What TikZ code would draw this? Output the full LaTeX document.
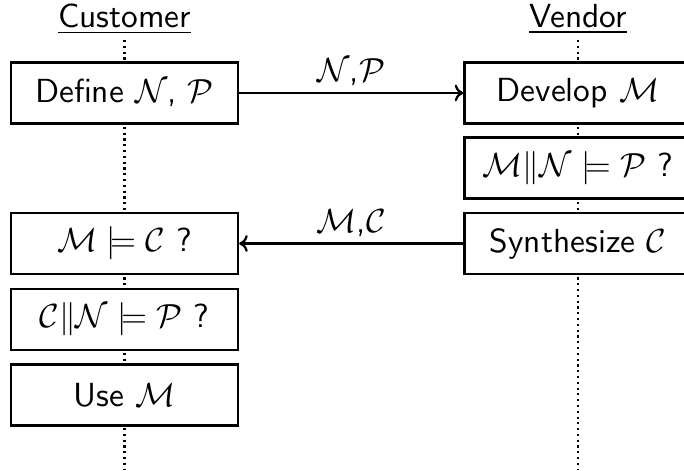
\documentclass[tikz,border=0pt]{standalone}
\usetikzlibrary{arrows.meta}
\begin{document}
\begin{tikzpicture}[x=0.328pt,y=-0.328pt,
  font=\fontsize{10.95}{13.6}\selectfont\sffamily,
  box/.style={draw, fill=white, line width=0.75pt, minimum width=74.5pt, minimum height=20pt, inner sep=0pt},
  life/.style={line width=0.7pt, dash pattern=on 0.7pt off 1.2pt},
  msg/.style={line width=0.75pt, -{To[length=2.8pt,width=5.5pt]}},
  lbl/.style={above=1.0pt, inner sep=1pt}]
\useasboundingbox (0,0) rectangle (684,471);
\clip (0,0) rectangle (684,471);
\node (cust) at (124.5,19) {\underline{Customer}};
\node (vend) at (578,19) {\underline{Vendor}};
\coordinate (ctop) at (124.5,40);
\coordinate (cbot) at (124.5,469);
\coordinate (vtop) at (578,40);
\coordinate (vbot) at (578,469);
\draw[life] (ctop) -- (cbot);
\draw[life] (vtop) -- (vbot);
\node[box] (def) at (124.5,93) {Define $\mathcal{N}$, $\mathcal{P}$};
\node[box] (chk) at (124.5,243.5) {$\mathcal{M}\models\mathcal{C}$ ?};
\node[box] (cnp) at (124.5,319.5) {$\mathcal{C}\|\mathcal{N}\models\mathcal{P}$ ?};
\node[box] (use) at (124.5,395) {Use $\mathcal{M}$};
\node[box] (dev) at (578,93) {Develop $\mathcal{M}$};
\node[box] (mnp) at (578,168) {$\mathcal{M}\|\mathcal{N}\models\mathcal{P}$ ?};
\node[box] (syn) at (578,243.5) {Synthesize $\mathcal{C}$};
\draw[msg] (def) -- node[lbl] {$\mathcal{N}$,$\mathcal{P}$} (dev);
\draw[msg] (syn) -- node[lbl] {$\mathcal{M}$,$\mathcal{C}$} (chk);
\end{tikzpicture}
\end{document}
